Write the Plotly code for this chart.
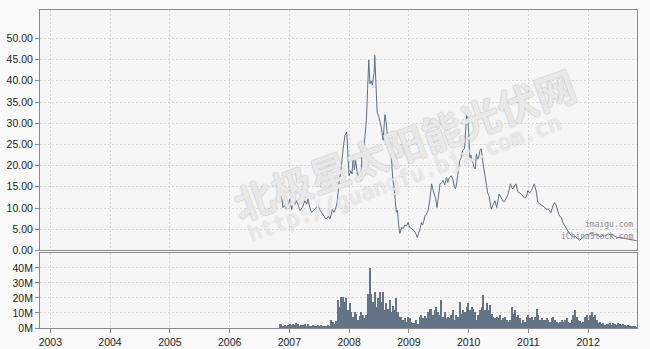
import plotly.graph_objects as go
import pandas as pd

# ---- price series (decimal year, price) ----
price_year = [2006.84, 2006.87, 2006.89, 2006.92, 2006.95, 2006.98, 2007.01, 2007.04, 2007.06, 2007.09,
              2007.12, 2007.15, 2007.18, 2007.22, 2007.26, 2007.29, 2007.31, 2007.35, 2007.37, 2007.40,
              2007.44, 2007.48, 2007.51, 2007.54, 2007.57, 2007.61, 2007.65, 2007.68, 2007.72, 2007.75,
              2007.78, 2007.80, 2007.83, 2007.87, 2007.90, 2007.93, 2007.96, 2007.98, 2008.00, 2008.03,
              2008.05, 2008.07, 2008.09, 2008.11, 2008.14, 2008.17, 2008.20, 2008.22, 2008.24, 2008.26,
              2008.29, 2008.31, 2008.33, 2008.35, 2008.37, 2008.39, 2008.42, 2008.43, 2008.45, 2008.47,
              2008.50, 2008.52, 2008.54, 2008.57, 2008.60, 2008.62, 2008.65, 2008.68, 2008.70, 2008.73,
              2008.76, 2008.79, 2008.81, 2008.83, 2008.85, 2008.88, 2008.91, 2008.93, 2008.96, 2008.99,
              2009.01, 2009.04, 2009.06, 2009.09, 2009.12, 2009.14, 2009.16, 2009.18, 2009.21, 2009.23,
              2009.25, 2009.27, 2009.29, 2009.32, 2009.35, 2009.38, 2009.40, 2009.43, 2009.45, 2009.47,
              2009.50, 2009.52, 2009.55, 2009.57, 2009.60, 2009.63, 2009.65, 2009.67, 2009.71, 2009.74,
              2009.76, 2009.78, 2009.80, 2009.82, 2009.85, 2009.88, 2009.90, 2009.93, 2009.95, 2009.97,
              2009.99, 2010.02, 2010.04, 2010.05, 2010.07, 2010.09, 2010.11, 2010.13, 2010.15, 2010.17,
              2010.19, 2010.21, 2010.23, 2010.25, 2010.28, 2010.30, 2010.32, 2010.34, 2010.36, 2010.38,
              2010.41, 2010.44, 2010.47, 2010.49, 2010.51, 2010.54, 2010.57, 2010.60, 2010.63, 2010.66,
              2010.70, 2010.72, 2010.74, 2010.77, 2010.79, 2010.81, 2010.83, 2010.86, 2010.88, 2010.91,
              2010.94, 2010.97, 2010.99, 2011.02, 2011.05, 2011.08, 2011.10, 2011.13, 2011.16, 2011.19,
              2011.22, 2011.24, 2011.27, 2011.30, 2011.33, 2011.36, 2011.38, 2011.41, 2011.44, 2011.47,
              2011.49, 2011.51, 2011.53, 2011.55, 2011.58, 2011.61, 2011.64, 2011.66, 2011.69, 2011.72,
              2011.75, 2011.78, 2011.80, 2011.83, 2011.86, 2011.89, 2011.92, 2011.94, 2011.97, 2012.00,
              2012.03, 2012.05, 2012.08, 2012.11, 2012.14, 2012.17, 2012.20, 2012.23, 2012.26, 2012.28,
              2012.31, 2012.34, 2012.37, 2012.41, 2012.44, 2012.47, 2012.50, 2012.54, 2012.58, 2012.62,
              2012.66, 2012.69, 2012.73, 2012.77, 2012.81]
price_value = [15.3, 14.0, 10.1, 10.6, 9.75, 10.9, 12.0, 9.6, 11.7, 10.8,
               11.7, 10.6, 9.4, 10.2, 11.7, 10.9, 12.1, 9.8, 9.0, 9.4,
               10.0, 10.5, 9.6, 8.9, 8.2, 7.4, 8.0, 7.4, 9.6, 9.0,
               10.2, 11.3, 15.7, 19.6, 24.0, 27.1, 27.9, 22.0, 17.6, 18.8,
               18.0, 22.5, 19.0, 21.2, 18.0, 17.2, 16.5, 24.3, 23.8, 25.9,
               30.7, 38.0, 44.9, 39.3, 40.0, 39.0, 42.0, 46.0, 39.7, 32.6,
               31.4, 30.0, 29.0, 26.0, 32.0, 30.5, 25.5, 25.5, 24.0, 17.0,
               14.0, 9.0, 9.5, 6.0, 4.0, 5.4, 5.2, 6.0, 5.8, 6.6,
               5.4, 5.2, 5.0, 4.6, 3.8, 3.0, 4.0, 4.8, 6.6, 6.0,
               7.0, 8.2, 8.5, 9.4, 12.0, 15.7, 14.5, 13.0, 12.0, 10.1,
               13.5, 15.7, 16.0, 16.5, 15.5, 17.2, 16.0, 17.0, 17.6, 16.5,
               15.0, 14.5, 16.0, 18.4, 21.2, 22.0, 23.6, 24.0, 29.1, 33.0,
               30.7, 21.6, 22.5, 21.2, 20.8, 19.6, 19.2, 22.8, 21.5, 22.0,
               23.6, 24.0, 21.5, 19.6, 17.2, 14.5, 13.5, 12.9, 11.5, 9.75,
               10.8, 11.7, 10.1, 11.5, 13.3, 12.5, 11.7, 11.5, 12.5, 13.3,
               15.7, 14.8, 14.5, 15.3, 15.7, 14.5, 13.7, 13.5, 13.3, 12.8,
               12.3, 12.8, 14.1, 13.5, 14.1, 15.0, 15.7, 14.0, 11.3, 11.0,
               10.8, 10.5, 10.2, 9.75, 9.75, 9.2, 8.9, 10.5, 11.3, 10.5,
               9.4, 8.5, 8.0, 7.8, 6.5, 5.8, 5.0, 4.5, 3.9, 3.6,
               3.2, 3.4, 3.0, 2.7, 2.4, 2.8, 3.0, 3.4, 3.8, 3.6,
               4.0, 4.2, 3.9, 3.7, 3.8, 3.5, 3.2, 3.4, 3.6, 3.4,
               3.6, 3.9, 3.7, 3.8, 3.4, 3.2, 3.0, 3.1, 2.9, 2.8,
               2.7, 2.6, 2.5, 2.4, 2.3]

# ---- volume series (millions), evenly spaced between first and last date ----
vol_first = "2006-11-03"
vol_last = "2012-10-24"
vol_millions = [2.9, 2.6, 1.5, 2.2, 1.8, 2.4, 2.6, 2.0, 3.1, 2.2,
                3.5, 2.6, 1.8, 2.2, 2.0, 3.1, 1.8, 2.6, 1.5, 1.8,
                2.4, 1.5, 1.8, 2.2, 1.5, 2.0, 1.8, 1.3, 1.5, 2.0,
                1.3, 5.5, 4.0, 2.6, 5.0, 18.8, 14.3, 20.9, 21.2, 17.6,
                19.9, 12.1, 16.6, 11.0, 7.7, 11.0, 9.5, 5.5, 8.0, 11.0,
                8.8, 6.6, 9.0, 23.2, 40.1, 23.2, 17.6, 23.9, 14.3, 19.9,
                23.9, 17.6, 23.9, 12.1, 16.6, 13.2, 18.8, 11.0, 15.0, 12.0,
                19.9, 11.0, 7.7, 7.7, 5.5, 6.6, 4.4, 7.7, 6.6, 4.4,
                3.3, 3.3, 5.5, 2.6, 7.7, 8.8, 6.6, 8.2, 6.6, 11.0,
                13.2, 13.2, 8.8, 12.1, 14.3, 11.0,
                8.8, 18.8, 7.7, 11.0, 6.6, 7.7, 6.6, 8.8, 12.1, 5.5,
                8.8, 7.7, 17.6, 9.9, 12.1, 11.0, 14.3, 16.6, 12.1, 14.3,
                13.2, 11.0, 5.5, 8.8, 12.1, 14.3, 22.5, 12.1, 17.2, 12.1,
                15.4, 9.9, 7.7, 6.6, 7.7, 6.6, 8.8, 5.5, 6.6, 7.7,
                5.5, 4.4, 5.5, 14.3, 9.9, 12.1, 7.7, 8.8, 6.6, 3.3,
                5.5, 4.4, 7.7, 8.8, 6.6, 7.7, 5.5, 7.7, 13.2, 8.8,
                5.5, 6.6, 5.5, 5.5, 6.6, 5.5, 4.4, 6.6, 7.7, 5.5,
                4.4, 3.3, 4.0, 5.5, 4.4, 5.5, 6.6, 4.4, 3.3, 5.5,
                8.8, 12.1, 7.7, 5.5, 4.9, 3.3, 4.4, 7.7, 8.8, 5.5,
                8.8, 11.0, 7.7, 8.8, 5.5, 3.3, 4.4, 2.6, 3.3, 2.2,
                2.9, 2.6, 3.3, 2.2, 3.3, 2.6, 2.2, 3.7, 2.6, 2.2,
                2.6, 2.2, 1.8, 2.2, 1.5, 1.8, 1.3, 1.5, 1.1]

year_ticks = [2003, 2004, 2005, 2006, 2007, 2008, 2009, 2010, 2011, 2012]
price_ticks = [0, 5, 10, 15, 20, 25, 30, 35, 40, 45, 50]
vol_ticks = [0, 10, 20, 30, 40]


def to_date(t):
    y = int(t)
    return pd.Timestamp(y, 1, 1) + pd.Timedelta(days=(t - y) * 365.25)


price_dates = [to_date(t) for t in price_year]
vol_dates = pd.date_range(vol_first, vol_last, periods=len(vol_millions))
vol_values = [v * 1e6 for v in vol_millions]
tick_dates = [pd.Timestamp(y, 1, 1) for y in year_ticks]

LINE = "#5d6f84"
BAR = "#637487"
GRID = "#d4d4d4"
AXIS = "#8a8a8a"
FONT = dict(family="Liberation Sans, Arial, sans-serif", size=10.5, color="#222222")

fig = go.Figure()
fig.add_trace(go.Scatter(x=price_dates, y=price_value, mode="lines",
                         line=dict(color=LINE, width=1), xaxis="x", yaxis="y",
                         hoverinfo="skip", showlegend=False))
bar_w = (vol_dates[1] - vol_dates[0]).total_seconds() * 1000 * 0.62
fig.add_trace(go.Bar(x=vol_dates, y=vol_values, marker=dict(color=BAR, line=dict(width=0)),
                     width=bar_w, xaxis="x2", yaxis="y2", hoverinfo="skip", showlegend=False))

xrange = [pd.Timestamp("2002-10-30"), pd.Timestamp("2012-10-26")]
common_x = dict(type="date", range=xrange, tickvals=tick_dates, showgrid=True,
                gridcolor=GRID, griddash="2px,2px", gridwidth=1, showline=True,
                linecolor=AXIS, linewidth=1, mirror=True, zeroline=False, automargin=False,
                ticks="outside", ticklen=4, tickcolor=AXIS, tickfont=FONT)
common_y = dict(showgrid=True, gridcolor=GRID, griddash="2px,2px", showline=True,
                linecolor=AXIS, linewidth=1, mirror=True, zeroline=False, automargin=False,
                ticks="outside", ticklen=4, tickcolor=AXIS, tickfont=FONT)

fig.update_layout(
    width=650, height=349,
    margin=dict(l=40, r=13, t=10, b=21, pad=0, autoexpand=False),
    paper_bgcolor="#fafafa", plot_bgcolor="#f6f6f6",
    bargap=0,
    xaxis=dict(common_x, domain=[0, 1], anchor="y", showticklabels=False, ticks=""),
    yaxis=dict(common_y, domain=[0.244, 1], range=[0, 56.7], tickvals=price_ticks,
               ticktext=["%.2f" % v for v in price_ticks]),
    xaxis2=dict(common_x, domain=[0, 1], anchor="y2", matches="x",
                ticktext=[str(y) for y in year_ticks]),
    yaxis2=dict(common_y, domain=[0, 0.237], range=[0, 50.2e6],
                tickvals=[v * 1e6 for v in vol_ticks],
                ticktext=["%dM" % v for v in vol_ticks]),
)

# watermark
fig.add_annotation(text="<b>北极星太阳能光伏网</b>", xref="paper", yref="paper",
                   x=0.61, y=0.58, showarrow=False, textangle=-20,
                   font=dict(family="Noto Sans CJK SC", size=40, color="rgba(248,248,248,0.85)",
                             shadow="0px 0px 1.5px rgba(120,120,120,0.9)"))
fig.add_annotation(text="http://guangfu.bjx.com.cn", xref="paper", yref="paper",
                   x=0.61, y=0.47, showarrow=False, textangle=-20,
                   font=dict(family="DejaVu Sans Mono", size=22, color="rgba(245,245,245,0.8)",
                             shadow="0px 0px 1.5px rgba(150,150,150,0.8)"))
fig.add_annotation(text="imaigu.com", xref="paper", yref="paper",
                   x=0.997, y=0.305, xanchor="right", showarrow=False,
                   font=dict(family="DejaVu Sans Mono", size=8, color="#8c8c8c"))
fig.add_annotation(text="iChinaStock.com", xref="paper", yref="paper",
                   x=0.997, y=0.268, xanchor="right", showarrow=False,
                   font=dict(family="DejaVu Sans Mono", size=8, color="#8c8c8c"))

fig.write_html("out.html")
